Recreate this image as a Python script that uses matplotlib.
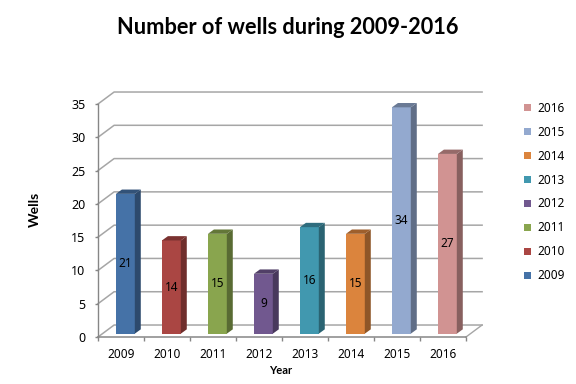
import matplotlib
matplotlib.use('Agg')
import matplotlib.pyplot as plt
from matplotlib.colors import to_rgb
from matplotlib.patches import Polygon

years = ['2009', '2010', '2011', '2012', '2013', '2014', '2015', '2016']
wells = [21, 14, 15, 9, 16, 15, 34, 27]
colors = ['#4572A7', '#AA4643', '#89A54E', '#71588F', '#4198AF', '#DB843D', '#93A9CF', '#D19392']
y_ticks = [0, 5, 10, 15, 20, 25, 30, 35]

plt.rcParams['font.family'] = ['Noto Sans', 'DejaVu Sans']

GRID = '#A6A6A6'
AXIS = '#868686'
WALL_DX, WALL_DY = 0.35, 1.8     # depth of the fake 3d box
BAR_DX, BAR_DY = 0.13, 0.65      # depth of one bar
BAR_LIFT = 0.5
BAR_LEFT, BAR_W = 0.39, 0.41


def shade(color, k):
    return tuple(c * k for c in to_rgb(color))


fig = plt.figure(figsize=(5.76, 3.84), dpi=100)
ax = fig.add_axes([98 / 576, 1 - 337 / 384, 368 / 576, 233 / 384])
ax.set_xlim(0, len(years))
ax.set_ylim(0, 35)
for s in ax.spines.values():
    s.set_visible(False)

# walls and gridlines
for v in y_ticks:
    ax.plot([0, WALL_DX, len(years) + WALL_DX], [v, v + WALL_DY, v + WALL_DY],
            color=GRID, lw=1.1, clip_on=False, zorder=1)
ax.plot([len(years), len(years) + WALL_DX], [0, WALL_DY], color=GRID, lw=1, clip_on=False, zorder=1)
ax.plot([0, 0], [0, 35], color=AXIS, lw=1, clip_on=False, zorder=1)
ax.plot([0, len(years)], [0, 0], color=AXIS, lw=1.1, clip_on=False, zorder=1)

# bars
for i, (year, v, col) in enumerate(zip(years, wells, colors)):
    x0 = i + BAR_LEFT
    x1 = x0 + BAR_W
    y0 = BAR_LIFT
    y1 = v + BAR_LIFT
    ax.bar(x0, v, BAR_W, bottom=y0, align='edge', color=col, label=year, lw=0, zorder=3, clip_on=False)
    ax.add_patch(Polygon([(x1, y0), (x1 + BAR_DX, y0 + BAR_DY), (x1 + BAR_DX, y1 + BAR_DY), (x1, y1)],
                         fc=shade(col, 0.65), lw=0, zorder=3, clip_on=False))
    ax.add_patch(Polygon([(x0, y1), (x1, y1), (x1 + BAR_DX, y1 + BAR_DY), (x0 + BAR_DX, y1 + BAR_DY)],
                         fc=shade(col, 0.72), lw=0, zorder=3, clip_on=False))
    ax.text((x0 + x1) / 2, y0 + v / 2, str(v), ha='center', va='center', fontsize=8.5, color='black', zorder=4)

ax.set_xticks([i + 0.5 for i in range(len(years))])
ax.set_xticklabels(years, fontsize=8.5)
ax.tick_params(axis='x', which='major', length=0, pad=8)
ax.set_xticks(range(len(years) + 1), minor=True)
ax.tick_params(axis='x', which='minor', length=3, width=1, color=AXIS)
ax.set_yticks(y_ticks)
ax.tick_params(axis='y', length=2, width=1, color=AXIS, pad=7, labelsize=9)

fig.text(288 / 576, 1 - 27 / 384, 'Number of wells during 2009-2016', ha='center', va='center',
         family='Lato', fontweight='bold', fontsize=15.7)
fig.text(281 / 576, 1 - 371 / 384, 'Year', ha='center', va='center', fontsize=8, family='Lato', fontweight='bold')
fig.text(35 / 576, 1 - 209 / 384, 'Wells', ha='center', va='center', rotation=90, fontsize=10, family='Lato',
         fontweight='bold')

handles, labels = ax.get_legend_handles_labels()
ax.legend(handles[::-1], labels[::-1], loc='center left', bbox_to_anchor=(524 / 576, 1 - 192 / 384),
          bbox_transform=fig.transFigure, frameon=False, fontsize=8.5, labelspacing=0.93,
          handlelength=0.6, handleheight=0.6, handletextpad=0.5, borderpad=0, borderaxespad=0)

fig.savefig('out.png', dpi=100)
